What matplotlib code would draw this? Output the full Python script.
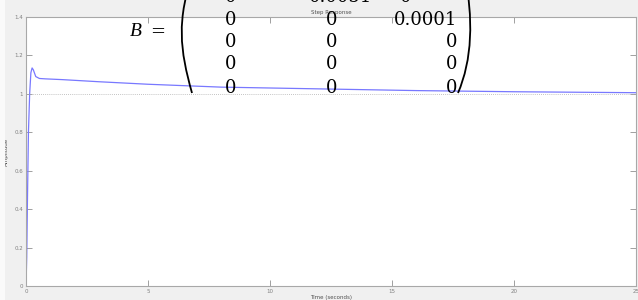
import matplotlib.pyplot as plt
from matplotlib.path import Path
from matplotlib.patches import PathPatch, Rectangle

# step response
time_s = [0, 0.03, 0.06, 0.1, 0.15, 0.2, 0.25, 0.3, 0.4, 0.55, 0.8, 1.5,
          3, 5, 8, 12, 16, 20, 25]
amplitude = [0, 0.15, 0.45, 0.8, 1.0, 1.11, 1.135, 1.125, 1.09, 1.08, 1.078,
             1.074, 1.063, 1.05, 1.035, 1.026, 1.017, 1.011, 1.006]
x_ticks = [0, 5, 10, 15, 20, 25]
y_ticks = [0, 0.2, 0.4, 0.6, 0.8, 1, 1.2, 1.4]
y_labels = ["0", "0.2", "0.4", "0.6", "0.8", "1", "1.2", "1.4"]

# matrix overlay text
matrix_rows = [
    ["0", "0.0051", "0"],
    ["0", "0", "0.0001"],
    ["0", "0", "0"],
    ["0", "0", "0"],
    ["0", "0", "0"],
]

W, H = 638, 300
fig = plt.figure(figsize=(W / 100, H / 100), dpi=100, facecolor="#f0f0f0")


def px(x, y):
    # pixel coords (top-left origin) -> figure fraction
    return x / W, 1 - y / H


# light strip on the left edge of the window
fig.patches.append(Rectangle((0, 0), 5 / W, 1, transform=fig.transFigure,
                             facecolor="#fafafa", edgecolor="none", zorder=0))

ax = fig.add_axes([26 / W, 14 / H, 610 / W, 269 / H])
ax.set_facecolor("white")
ax.plot(time_s, amplitude, color="#7878ff", lw=0.9)
ax.axhline(1, color="#b0b0b0", lw=0.6, ls=(0, (1, 1.5)))
ax.set_xlim(0, 25)
ax.set_ylim(0, 1.4)
ax.set_xticks(x_ticks)
ax.set_yticks(y_ticks)
ax.set_yticklabels(y_labels)
ax.tick_params(direction="in", length=4, width=0.6, colors="#909090",
               labelsize=4, labelcolor="#808080", top=True, right=True, pad=2)
for s in ax.spines.values():
    s.set_color("#a8a8a8")
    s.set_linewidth(0.8)
ax.set_title("Step Response", fontsize=4, color="#505050", pad=2)
ax.set_xlabel("Time (seconds)", fontsize=4, color="#505050", labelpad=1)
ax.set_ylabel("Amplitude", fontsize=4, color="#505050", labelpad=4)

# matrix overlay: B = ( ... )
serif = "DejaVu Serif"
fig.text(*px(130, 32), "B", fontsize=14, family="Liberation Serif",
         style="italic", ha="left", va="center", color="black")
fig.text(*px(158, 32), "=", fontsize=13, family=serif, ha="center",
         va="center", color="black")

row_y = [-3, 20, 42, 64, 88]
for i, row in enumerate(matrix_rows):
    if i == 0:
        xs = [(231, "center"), (341, "center"), (406, "center")]
    else:
        xs = [(231, "center"), (332, "center"), (457, "right")]
    for (x, ha), txt in zip(xs, row):
        fig.text(*px(x, row_y[i]), txt, fontsize=13, family=serif, ha=ha,
                 va="center", color="black")

# parentheses drawn as curves
left = Path([px(194, -30), px(176, 20), px(180, 50), px(192, 93)],
            [Path.MOVETO, Path.CURVE4, Path.CURVE4, Path.CURVE4])
right = Path([px(464, -30), px(474, 20), px(472, 60), px(458, 93)],
             [Path.MOVETO, Path.CURVE4, Path.CURVE4, Path.CURVE4])
for p in (left, right):
    fig.patches.append(PathPatch(p, transform=fig.transFigure, fill=False,
                                 lw=1.3, edgecolor="black", zorder=5))

fig.savefig("out.png", dpi=100, facecolor=fig.get_facecolor())
